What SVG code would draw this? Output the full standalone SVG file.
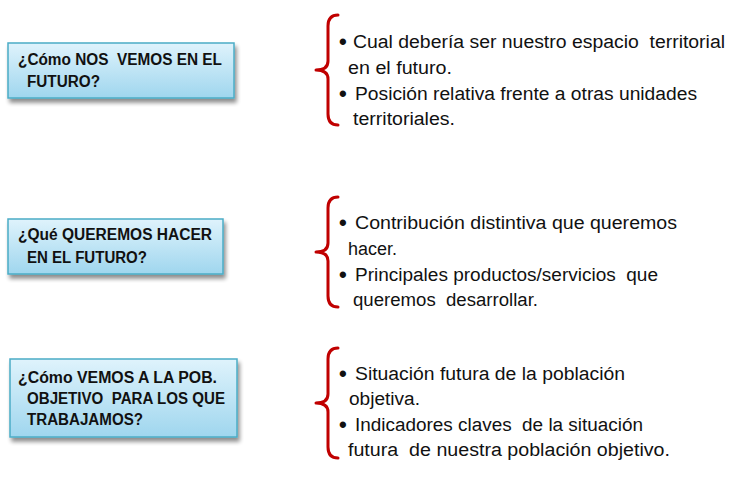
<svg xmlns="http://www.w3.org/2000/svg" width="750" height="494" viewBox="0 0 750 494">
<defs>
<linearGradient id="boxFill" x1="0" y1="0" x2="0" y2="1">
<stop offset="0" stop-color="#dff3fc"/>
<stop offset="1" stop-color="#9fd6ee"/>
</linearGradient>
<filter id="shadow" x="-10%" y="-20%" width="130%" height="160%">
<feGaussianBlur in="SourceAlpha" stdDeviation="2"/>
<feOffset dx="2" dy="4" result="b"/>
<feComponentTransfer><feFuncA type="linear" slope="0.45"/></feComponentTransfer>
<feMerge><feMergeNode/><feMergeNode in="SourceGraphic"/></feMerge>
</filter>
<path id="brace" d="M338,15 Q328,15 328,26 L328,61 Q328,70 316,70 Q328,70 328,79 L328,114 Q328,125 338,125"/>
</defs>
<style>
.box{fill:url(#boxFill);stroke:#4bacc6;stroke-width:1.5;filter:url(#shadow)}
.q{font-family:"Liberation Sans",Arial,sans-serif;font-weight:bold;font-size:16px;fill:#111;white-space:pre}
.t{font-family:"Liberation Sans",Arial,sans-serif;font-size:18px;fill:#111;white-space:pre}
.b{font-family:"Liberation Sans",Arial,sans-serif;font-size:22px;font-weight:bold;fill:#111}
.br{fill:none;stroke:#c00000;stroke-width:3;stroke-linecap:round;stroke-linejoin:round}
</style>
<rect width="750" height="494" fill="#ffffff"/>

<g id="node1">
<rect class="box" x="8" y="43" width="226" height="55"/>
<text class="q" x="18" y="65" textLength="204" lengthAdjust="spacingAndGlyphs">¿Cómo NOS  VEMOS EN EL</text>
<text class="q" x="27" y="87" textLength="73" lengthAdjust="spacingAndGlyphs">FUTURO?</text>
</g>

<g id="node2">
<rect class="box" x="8" y="219" width="215" height="55"/>
<text class="q" x="18" y="240" textLength="194" lengthAdjust="spacingAndGlyphs">¿Qué QUEREMOS HACER</text>
<text class="q" x="27" y="263" textLength="120" lengthAdjust="spacingAndGlyphs">EN EL FUTURO?</text>
</g>

<g id="node3">
<rect class="box" x="10" y="359" width="227" height="78"/>
<text class="q" x="18" y="383" textLength="199" lengthAdjust="spacingAndGlyphs">¿Cómo VEMOS A LA POB.</text>
<text class="q" x="27" y="404" textLength="198" lengthAdjust="spacingAndGlyphs">OBJETIVO  PARA LOS QUE</text>
<text class="q" x="27" y="425" textLength="116" lengthAdjust="spacingAndGlyphs">TRABAJAMOS?</text>
</g>

<g id="connectors">
<use href="#brace" class="br"/>
<use href="#brace" class="br" transform="translate(0,182)"/>
<use href="#brace" class="br" transform="translate(0,333)"/>
</g>

<g id="list1">
<text class="b" x="339" y="49">•</text>
<text class="t" x="353" y="48" textLength="372" lengthAdjust="spacingAndGlyphs">Cual debería ser nuestro espacio  territorial</text>
<text class="t" x="348" y="74" textLength="104" lengthAdjust="spacingAndGlyphs">en el futuro.</text>
<text class="b" x="339" y="101">•</text>
<text class="t" x="355" y="100" textLength="342" lengthAdjust="spacingAndGlyphs">Posición relativa frente a otras unidades</text>
<text class="t" x="353" y="125" textLength="102" lengthAdjust="spacingAndGlyphs">territoriales.</text>
</g>

<g id="list2">
<text class="b" x="339" y="230">•</text>
<text class="t" x="355" y="229" textLength="322" lengthAdjust="spacingAndGlyphs">Contribución distintiva que queremos</text>
<text class="t" x="348" y="255" textLength="49" lengthAdjust="spacingAndGlyphs">hacer.</text>
<text class="b" x="339" y="282">•</text>
<text class="t" x="355" y="281" textLength="303" lengthAdjust="spacingAndGlyphs">Principales productos/servicios  que</text>
<text class="t" x="353" y="306" textLength="185" lengthAdjust="spacingAndGlyphs">queremos  desarrollar.</text>
</g>

<g id="list3">
<text class="b" x="339" y="381">•</text>
<text class="t" x="355" y="380" textLength="270" lengthAdjust="spacingAndGlyphs">Situación futura de la población</text>
<text class="t" x="349" y="405" textLength="71" lengthAdjust="spacingAndGlyphs">objetiva.</text>
<text class="b" x="339" y="432">•</text>
<text class="t" x="355" y="431" textLength="288" lengthAdjust="spacingAndGlyphs">Indicadores claves  de la situación</text>
<text class="t" x="348" y="456" textLength="322" lengthAdjust="spacingAndGlyphs">futura  de nuestra población objetivo.</text>
</g>
</svg>
